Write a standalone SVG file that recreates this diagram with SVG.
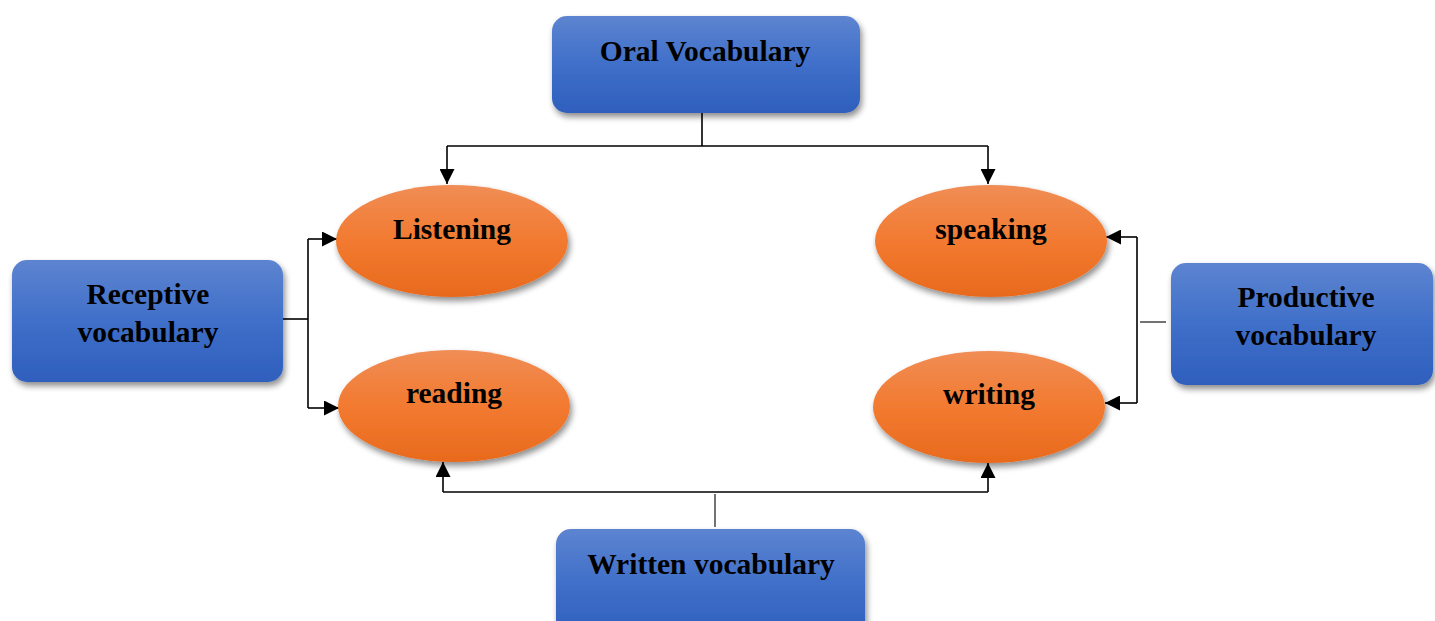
<svg xmlns="http://www.w3.org/2000/svg" width="1435" height="621" viewBox="0 0 1435 621">
<style>
.lbl{font-family:"Liberation Serif","Times New Roman",serif;font-weight:bold;font-size:29.5px;fill:#000;text-anchor:middle}
.box{fill:url(#blue);filter:url(#sh)}
.ell{fill:url(#orange);filter:url(#sh)}
.ln{stroke:#000;stroke-width:1.6;fill:none}
.gl{stroke:#444;stroke-width:1.5;fill:none}
</style>
<defs>
<linearGradient id="blue" x1="0" y1="0" x2="0" y2="1">
<stop offset="0" stop-color="#5d84d0"/>
<stop offset="0.5" stop-color="#3f6fc9"/>
<stop offset="1" stop-color="#2f5fbd"/>
</linearGradient>
<linearGradient id="orange" x1="0" y1="0" x2="0" y2="1">
<stop offset="0" stop-color="#f08d55"/>
<stop offset="0.5" stop-color="#f27a30"/>
<stop offset="1" stop-color="#e86a1d"/>
</linearGradient>
<filter id="sh" x="-10%" y="-10%" width="125%" height="135%">
<feGaussianBlur in="SourceAlpha" stdDeviation="3"/>
<feOffset dx="2" dy="4" result="b"/>
<feComponentTransfer><feFuncA type="linear" slope="0.45"/></feComponentTransfer>
<feMerge><feMergeNode/><feMergeNode in="SourceGraphic"/></feMerge>
</filter>
<marker id="ahb" viewBox="0 0 10 10" refX="10" refY="5" markerWidth="15" markerHeight="15" markerUnits="userSpaceOnUse" orient="auto">
<path d="M0,0 L10,5 L0,10 Z" fill="#000"/>
</marker>
</defs>

<g id="connectors">
<polyline class="ln" points="702,113 702,146"/>
<polyline class="ln" points="447,146 988,146"/>
<line class="ln" x1="447" y1="146" x2="447" y2="184" marker-end="url(#ahb)"/>
<line class="ln" x1="988" y1="146" x2="988" y2="184" marker-end="url(#ahb)"/>

<line class="ln" x1="283" y1="319" x2="308" y2="319"/>
<polyline class="ln" points="308,239 308,408"/>
<line class="ln" x1="308" y1="239" x2="337" y2="239" marker-end="url(#ahb)"/>
<line class="ln" x1="308" y1="408" x2="339" y2="408" marker-end="url(#ahb)"/>

<line class="gl" x1="1140" y1="322" x2="1166" y2="322"/>
<polyline class="ln" points="1137,237 1137,403"/>
<line class="ln" x1="1137" y1="237" x2="1106" y2="237" marker-end="url(#ahb)"/>
<line class="ln" x1="1137" y1="403" x2="1105" y2="403" marker-end="url(#ahb)"/>

<line class="gl" x1="715" y1="494" x2="715" y2="527"/>
<polyline class="ln" points="443,492 988,492"/>
<line class="ln" x1="443" y1="492" x2="443" y2="462" marker-end="url(#ahb)"/>
<line class="ln" x1="988" y1="492" x2="988" y2="463" marker-end="url(#ahb)"/>
</g>

<g id="oral">
<rect class="box" x="552" y="16" width="308" height="97" rx="15"/>
<text class="lbl" x="705" y="61">Oral Vocabulary</text>
</g>
<g id="receptive">
<rect class="box" x="12" y="260" width="271" height="122" rx="15"/>
<text class="lbl" x="148" y="304">Receptive</text>
<text class="lbl" x="148" y="342">vocabulary</text>
</g>
<g id="productive">
<rect class="box" x="1171" y="263" width="262" height="122" rx="15"/>
<text class="lbl" x="1306" y="307">Productive</text>
<text class="lbl" x="1306" y="345">vocabulary</text>
</g>
<g id="written">
<rect class="box" x="556" y="529" width="309" height="110" rx="15"/>
<text class="lbl" x="711" y="574">Written vocabulary</text>
</g>
<g id="listening">
<ellipse class="ell" cx="452" cy="241" rx="116" ry="56"/>
<text class="lbl" x="452" y="239">Listening</text>
</g>
<g id="reading">
<ellipse class="ell" cx="454" cy="406" rx="116" ry="56"/>
<text class="lbl" x="454" y="403">reading</text>
</g>
<g id="speaking">
<ellipse class="ell" cx="991" cy="241" rx="116" ry="56"/>
<text class="lbl" x="991" y="239">speaking</text>
</g>
<g id="writing">
<ellipse class="ell" cx="989" cy="407" rx="116" ry="56"/>
<text class="lbl" x="989" y="404">writing</text>
</g>
</svg>
